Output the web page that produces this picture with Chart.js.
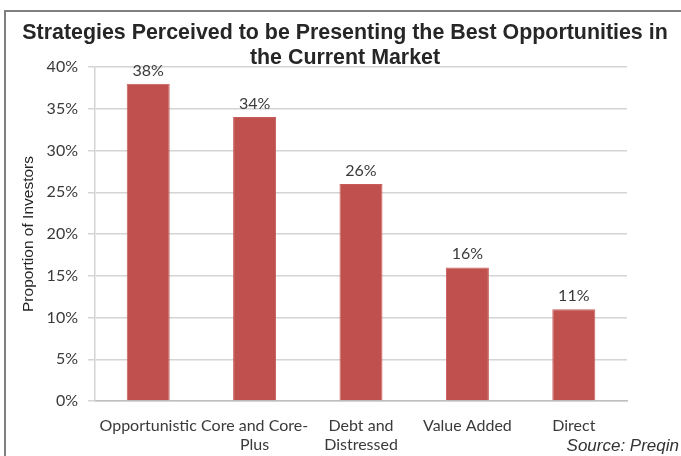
<!DOCTYPE html>
<html>
<head>
<meta charset="utf-8">
<script src="https://cdn.jsdelivr.net/npm/chart.js@4"></script>
<style>
  html, body { margin: 0; padding: 0; background: #fff; }
  #wrap { position: relative; width: 681px; height: 456px; overflow: hidden; }
  #frame { position: absolute; left: 4px; top: 10px; width: 700px; height: 460px;
           border-left: 2px solid #7f7f7f; border-top: 2px solid #7f7f7f; box-sizing: border-box; }
  canvas { position: absolute; left: 0; top: 0; }
</style>
</head>
<body>
<div id="wrap">
  <div id="frame"></div>
  <canvas id="c" width="681" height="456"></canvas>
</div>
<script>
const categories = [["Opportunistic"], ["Core and Core-", "Plus"], ["Debt and", "Distressed"], ["Value Added"], ["Direct"]];
const proportions = [38, 34, 26, 16, 11];
const titleLines = ["Strategies Perceived to be Presenting the Best Opportunities in", "the Current Market"];
const yAxisTitle = "Proportion of Investors";
const sourceText = "Source: Preqin";

const textPlugin = {
  id: 'texts',
  afterDatasetsDraw(chart) {
    const ctx = chart.ctx;
    const meta = chart.getDatasetMeta(0);
    ctx.save();
    ctx.font = '16px Lato';
    ctx.fillStyle = '#3a3a3a';
    ctx.textAlign = 'center';
    ctx.textBaseline = 'alphabetic';
    meta.data.forEach((bar, i) => {
      ctx.fillText(proportions[i] + '%', bar.x, bar.y - 8);
    });
    ctx.restore();
  },
  afterDraw(chart) {
    const ctx = chart.ctx;
    ctx.save();
    ctx.font = 'bold 21.4px "Liberation Sans"';
    ctx.fillStyle = '#262626';
    ctx.textAlign = 'center';
    ctx.textBaseline = 'alphabetic';
    ctx.fillText(titleLines[0], 345, 39);
    ctx.fillText(titleLines[1], 345, 64);
    ctx.font = 'italic 17px "Liberation Sans"';
    ctx.fillStyle = '#333333';
    ctx.textAlign = 'right';
    ctx.fillText(sourceText, 679, 451);
    ctx.restore();
  }
};

new Chart(document.getElementById('c'), {
  type: 'bar',
  data: {
    labels: categories,
    datasets: [{
      data: proportions,
      backgroundColor: '#c0504d',
      borderColor: '#c75c59',
      borderWidth: 1,
      categoryPercentage: 1.0,
      barPercentage: 0.404
    }]
  },
  options: {
    responsive: false,
    animation: false,
    devicePixelRatio: 1,
    layout: { padding: { left: 19, right: 54, top: 67, bottom: 0 } },
    plugins: {
      legend: { display: false },
      tooltip: { enabled: false },
      title: { display: false }
    },
    scales: {
      x: {
        grid: { display: false, drawTicks: false },
        border: { display: true, color: '#bfbfbf', width: 1.5 },
        afterFit(scale) { scale.height = 55; },
        ticks: {
          color: '#3a3a3a',
          font: { family: 'Lato', size: 16, lineHeight: 1.2 },
          padding: 15,
          maxRotation: 0,
          autoSkip: false
        }
      },
      y: {
        min: 0,
        max: 40,
        afterFit(scale) { scale.width = 76; },
        ticks: {
          stepSize: 5,
          color: '#3a3a3a',
          font: { family: 'Lato', size: 16 },
          padding: 10,
          callback: v => v + '%'
        },
        grid: { color: '#d4d4d4', lineWidth: 1.5, tickLength: 7, drawTicks: true },
        border: { display: true, color: '#d4d4d4', width: 1.5 },
        title: {
          display: true,
          text: yAxisTitle,
          color: '#262626',
          font: { family: '"Liberation Sans"', size: 15.5, lineHeight: 1.2 },
          padding: { top: 0, bottom: 9 }
        }
      }
    }
  },
  plugins: [textPlugin]
});
</script>
</body>
</html>
